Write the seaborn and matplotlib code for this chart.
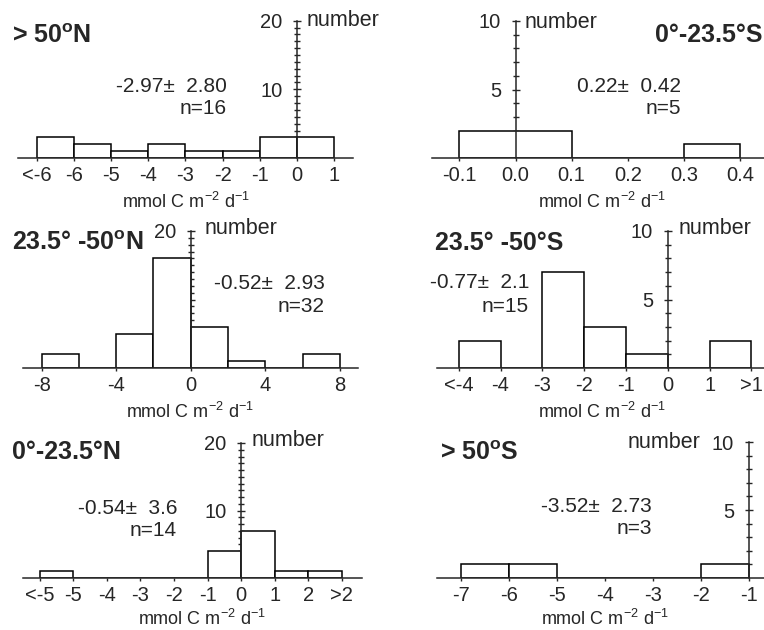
import numpy as np
import seaborn as sns
import matplotlib.pyplot as plt

# > 50 N
n50_edges = [-7, -6, -5, -4, -3, -2, -1, 0, 1]
n50_counts = [3, 2, 1, 2, 1, 1, 3, 3]
n50_ticks = [-7, -6, -5, -4, -3, -2, -1, 0, 1]
n50_labels = ['<-6', '-6', '-5', '-4', '-3', '-2', '-1', '0', '1']

# 0 - 23.5 S
s0_edges = [-0.1, 0.1, 0.3, 0.4]
s0_counts = [2, 0, 1]
s0_ticks = [-0.1, 0.0, 0.1, 0.2, 0.3, 0.4]
s0_labels = ['-0.1', '0.0', '0.1', '0.2', '0.3', '0.4']

# 23.5 - 50 N
n23_edges = [-8, -6, -4, -2, 0, 2, 4, 6, 8]
n23_counts = [2, 0, 5, 16, 6, 1, 0, 2]
n23_ticks = [-8, -4, 0, 4, 8]
n23_labels = ['-8', '-4', '0', '4', '8']

# 23.5 - 50 S
s23_edges = [-5, -4, -3, -2, -1, 0, 1, 2]
s23_counts = [2, 0, 7, 3, 1, 0, 2]
s23_ticks = [-5, -4, -3, -2, -1, 0, 1, 2]
s23_labels = ['<-4', '-4', '-3', '-2', '-1', '0', '1', '>1']

# 0 - 23.5 N
n0_edges = [-6, -5, -4, -3, -2, -1, 0, 1, 2, 3]
n0_counts = [1, 0, 0, 0, 0, 4, 7, 1, 1]
n0_ticks = [-6, -5, -4, -3, -2, -1, 0, 1, 2, 3]
n0_labels = ['<-5', '-5', '-4', '-3', '-2', '-1', '0', '1', '2', '>2']

# > 50 S
s50_edges = [-7, -6, -5, -4, -3, -2, -1]
s50_counts = [1, 1, 0, 0, 0, 1]
s50_ticks = [-7, -6, -5, -4, -3, -2, -1]
s50_labels = ['-7', '-6', '-5', '-4', '-3', '-2', '-1']

stats_text = ['-2.97\u00b1  2.80', '0.22\u00b1  0.42', '-0.52\u00b1  2.93',
              '-0.77\u00b1  2.1', '-0.54\u00b1  3.6', '-3.52\u00b1  2.73']
n_text = ['n=16', 'n=5', 'n=32', 'n=15', 'n=14', 'n=3']

W, H = 764, 630

sns.set_style('ticks')
plt.rcParams['font.family'] = ['Liberation Sans', 'DejaVu Sans']
plt.rcParams['mathtext.fontset'] = 'custom'
plt.rcParams['mathtext.rm'] = 'Liberation Sans'
plt.rcParams['mathtext.it'] = 'Liberation Sans:italic'
plt.rcParams['mathtext.bf'] = 'Liberation Sans:bold'

fig = plt.figure(figsize=(W / 100, H / 100), dpi=100)


def px(x, y):
    return x / W, 1 - y / H


def draw_panel(rect, edges, counts, ticks, labels, xlim, ymax, ymajor, yaxis_x,
               title, title_xy, title_ha, stats, n, stats_xy, n_xy,
               number_xy, number_ha, xlabel_xy):
    left, right, top, bottom = rect
    ax = fig.add_axes([left / W, 1 - bottom / H, (right - left) / W, (bottom - top) / H])
    centers = [(a + b) / 2 for a, b in zip(edges[:-1], edges[1:])]
    sns.histplot(x=centers, weights=counts, bins=edges, ax=ax, color='white',
                 edgecolor='black', linewidth=1.1, alpha=1)
    ax.set_xlim(*xlim)
    ax.set_ylim(0, ymax)
    ax.set_xlabel('')
    ax.set_ylabel('')
    ax.patch.set_alpha(0)
    for s in ['top', 'right']:
        ax.spines[s].set_visible(False)
    ax.spines['left'].set_position(('data', yaxis_x))
    ax.spines['left'].set_linewidth(1.1)
    ax.spines['bottom'].set_linewidth(1.1)
    ax.set_xticks(ticks)
    ax.set_xticklabels(labels)
    ax.set_yticks(list(range(ymajor, ymax + 1, ymajor)))
    ax.set_yticks([v for v in range(1, ymax) if v % ymajor != 0], minor=True)
    ax.tick_params(axis='x', direction='out', length=2.5, width=1.0, pad=3.5, labelsize=14.5)
    ax.tick_params(axis='y', which='major', direction='inout', length=6, width=1.0,
                   pad=7.5, labelsize=14.5)
    ax.tick_params(axis='y', which='minor', direction='inout', length=4.5, width=1.0)

    fig.text(*px(*title_xy), title, fontsize=18, fontweight='bold', ha=title_ha, va='center')
    fig.text(*px(*stats_xy), stats, fontsize=15, ha='right', va='center')
    fig.text(*px(*n_xy), n, fontsize=15, ha='right', va='center')
    fig.text(*px(*number_xy), 'number', fontsize=15.5, ha=number_ha, va='center')
    fig.text(*px(*xlabel_xy), 'mmol C m$^{-2}$ d$^{-1}$', fontsize=13, ha='center', va='center')
    return ax


draw_panel((18, 353, 20.7, 158), n50_edges, n50_counts, n50_ticks, n50_labels,
           (-7.5, 1.5), 20, 10, 0,
           '> 50$^{\\mathbf{o}}$N', (12, 36), 'left', stats_text[0], n_text[0],
           (227, 87), (227, 108), (307, 20), 'left', (186, 202))

draw_panel((432, 764, 21, 158), s0_edges, s0_counts, s0_ticks, s0_labels,
           (-0.149, 0.443), 10, 5, 0,
           '0\u00b0-23.5\u00b0S', (763, 35), 'right', stats_text[1], n_text[1],
           (681, 87), (681, 108), (525, 22), 'left', (602, 202))

draw_panel((23, 358, 231, 368), n23_edges, n23_counts, n23_ticks, n23_labels,
           (-9, 8.97), 20, 10, 0,
           '23.5\u00b0 -50$^{\\mathbf{o}}$N', (12, 243), 'left', stats_text[2], n_text[2],
           (325, 284), (325, 307), (205, 228), 'left', (190, 412))

draw_panel((437, 764, 231, 368), s23_edges, s23_counts, s23_ticks, s23_labels,
           (-5.52, 2.3), 10, 5, 0,
           '23.5\u00b0 -50\u00b0S', (435, 243), 'left', stats_text[3], n_text[3],
           (529, 283), (529, 306), (679, 228), 'left', (602, 412))

draw_panel((23, 362, 443, 578), n0_edges, n0_counts, n0_ticks, n0_labels,
           (-6.5, 3.6), 20, 10, 0,
           '0\u00b0-23.5\u00b0N', (12, 452), 'left', stats_text[4], n_text[4],
           (177, 508), (177, 530), (252, 440), 'left', (202, 619))

draw_panel((437, 764, 442, 578), s50_edges, s50_counts, s50_ticks, s50_labels,
           (-7.5, -0.68), 10, 5, -1,
           '> 50$^{\\mathbf{o}}$S', (440, 453), 'left', stats_text[5], n_text[5],
           (652, 507), (652, 528), (700, 442), 'right', (605, 619))

fig.savefig('out.png', dpi=100, facecolor='white')
